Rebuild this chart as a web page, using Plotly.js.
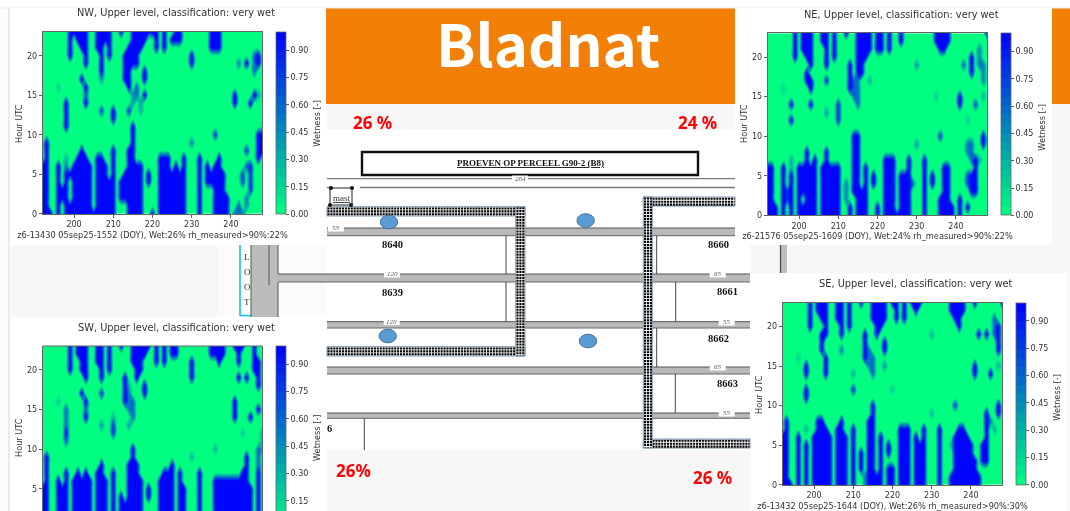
<!DOCTYPE html>
<html><head><meta charset="utf-8">
<script src="https://cdn.plot.ly/plotly-3.0.1.min.js"></script>
<style>html,body{margin:0;padding:0;background:#fff;overflow:hidden}#c{width:1070px;height:511px;filter:blur(0.45px)}</style>
</head><body><div id="c"></div>
<script>
// Day-of-year columns 192..248, hours 0..23. Each entry lists the wet hours for one DOY: "a-b" = wetness 1, "a-b:5" = 0.5
const doys=[192,193,194,195,196,197,198,199,200,201,202,203,204,205,206,207,208,209,210,211,212,213,214,215,216,217,218,219,220,221,222,223,224,225,226,227,228,229,230,231,232,233,234,235,236,237,238,239,240,241,242,243,244,245,246,247,248];
const hours=[0,1,2,3,4,5,6,7,8,9,10,11,12,13,14,15,16,17,18,19,20,21,22,23];
const nwWet=["0-6","0-9","0","","0-6,16:2","2-3","0-5,6:5,7:3,11-14","0-1,5,20-23","0-6,23","0-7,22-23","0-8,17,21-23","0-7,14,15:6,16,19-23","0-6","0","0-7,21-23","0-7,13:7,17:4,18-23","0-6,22-23","0-4,20-23","0-8,12-13","","2-4,23","2-5,17-20","0-8,13:8,16-21","0-11,14-15:4,19-23","0-6,15-16:6,19-23","0-6,13:3,14:4,21-23","15,17-18,22-23","4-5,23","0,23","21-23","0-7","0-7,21-23","0-7","0-5,22","0-6,22-23","0-5,22-23","0-7","","9:5,19-20","","0-7","","4-6","4-5,21-23","0-6,10:8,21-23","0-7,21-23","0-5","0-2","","0:6,14-15","0-1:6,19:5","0:5,4-5:7","1-2:5,6:6,8:8,19","3-6:8,14","15,18-20:6","7-10,15:3,19-20","8-10"];
const neWet=["0-6","0-6","0-1","","0-6,16:2","2-3:8","0-5,6-7:3,12,14","20-23","0-6","0-1,3-6,21-23","0-8,17-18,20-23","0-6,14,16-17,19-23","0-7","","0-6,22-23","0-8,13:4,17:8,19-23","0-6","0-6,20-23","0-6,12-14:8","","2-4:5,23","0-1,16-19","3-10,15-17:6","0-10,14-17:6,18-23","0-3,18-23","0-6,20-23","17:3,21-23","4-5","0-1,21-23","21-23","0-7","0-7,21-23","0-7","0","0-5,22-23","0-5","0-7","4:6","9:4,19:4","","0-7","","4-5","15:2,22-23","0-2,10:8,21-23","0-6,21-23","0-6,22-23","0-1","","0-2,14-15","19:6","1,4-5:7,8-9:5,12:2","3-5,7-9:6,18-20","3-7,14:7","7:3,19-21:5","9-10,15:3,17-19:5","23"];
const swWet=["0-5","0-9","0","","0-6,16:2","0-5","0-7,11-15:6,12","20-23","0-6","0-7,22-23","0-6,17,20-23","0-7,14,15:6,16,19-23","0-6","","0-7,21-23","0-8,13:4,17:8,19-23","0-6","20-23","0-7,12-13:8,14:3","","2-4,23","2-3,16-19","0-8,13:4,15-17:5,18:3","0-10,14-16:6,21-23","0-8,19-23","0-6,20-23","17-18,22-23","4-5,23","","21-23","0-6","0-7,21-23","0-7","0-8,22-23","22-23","0-7","0-5","","9:3,19-21","","0-7","","0-1","0-1,22-23","0-6,10:3,22-23","0-6,21-23","0-6,22-23","0-6","0-6","0-6,14-16,23","0-6,19,21-23","0-7,12:2,23","0-9,19","0-5,14","20-23","0-8,8-10:6,15,18-21","10-12:3"];
const seWet=["0-6","0-8","0","","0-6,16:2","","0-5,7:3,11-12,14-15","20-23","0-6","0-8,22-23","0-8,17-19,21-23","0-7,14-16,19-23","0-6","","0-7,21-23","0-8,17:5,19-23","0-6","20-23","0-7,12:8,14:3","","2-4,23","0-1:5,16-19","0-8,15-17:5","0-10,14-16:6,21-23","0-1,19-23","0-6,20-23","15:4,17-18,21-23","0-2,4-5","0-2,12:2,23","21-23","0-7","0-7,21-23","0-7","23","0-6,22-23","0-5,23","0-7","","9:3,19:3","","0-7","","","0-1,5:3,22-23","0-6,10:8,21-23","0-7,20-23","0-7,22-23","0-6","0-5","0-3,14-15,23","0-1,19","3-5","3-9,19","8:5,14","7:3,19-21:6","9-10,15:3,17-20","23"];
const panelNames=["NW","NE","SW","SE"];
const footers=["z6-13430 05sep25-1552 (DOY), Wet:26% rh_measured>90%:22%","z6-21576 05sep25-1609 (DOY), Wet:24% rh_measured>90%:22%","","z6-13432 05sep25-1644 (DOY), Wet:26% rh_measured>90%:30%"];
const xTicks=[200,210,220,230,240];
const yTicks=[0,5,10,15,20];
const cbTicks=[0,0.15,0.30,0.45,0.60,0.75,0.90];
const percentLabels=["26 %","24 %","26%","26 %"];
const plotNumbers=["8640","8639","8660","8661","8662","8663","6"];
const roadLengths=["264","53","120","65","120","55","65","55"];

function decode(cols){
  const m=hours.map(()=>doys.map(()=>0));
  cols.forEach((c,j)=>{ if(!c) return; c.split(",").forEach(t=>{
    const [r,v]=t.split(":"); const [a,b]=r.split("-").map(Number);
    for(let h=a;h<=(b===undefined?a:b);h++) m[h][j]=v?Number(v)/10:1; }); });
  return m;
}
const W=1070,H=511,X=x=>x/W,Y=y=>1-y/H;
const DJ="DejaVu Sans, sans-serif", SERIF="Liberation Serif, serif";
const geo=[
 {ax:[42.7,262.3],ay:[32,213.7],cb:275.7,tx:176,ty:13,hx:19,hy:124,wx:316.7,wy:123},
 {ax:[767.7,987.3],ay:[33.3,215.3],cb:1000.7,tx:901,ty:14,hx:744,hy:124,wx:1041.7,wy:127},
 {ax:[42.7,262.3],ay:[346,511],cb:275.7,tx:176,ty:327,clip:true,hx:19,hy:438,wx:317,wy:438},
 {ax:[782.7,1002.3],ay:[302.7,484.7],cb:1015.7,tx:915.7,ty:283,hx:759,hy:395,wx:1056.7,wy:397}
];
const wet=[nwWet,neWet,swWet,seWet];
const traces=[],layout={width:W,height:H,margin:{l:0,r:0,t:0,b:0,autoexpand:false},paper_bgcolor:"#fff",plot_bgcolor:"rgba(0,0,0,0)",showlegend:false,hovermode:false,font:{family:DJ,color:"#333",size:8.2},shapes:[],annotations:[]};
const S=layout.shapes,A=layout.annotations;
const rect=(x0,y0,x1,y1,fill,line,lw,layer)=>S.push({type:"rect",xref:"paper",yref:"paper",x0:X(x0),x1:X(x1),y0:Y(y0),y1:Y(y1),fillcolor:fill,line:{color:line||fill,width:line?(lw||1):0},layer:layer||"below"});
const ln=(x0,y0,x1,y1,c,w,dash,layer)=>S.push({type:"line",xref:"paper",yref:"paper",x0:X(x0),x1:X(x1),y0:Y(y0),y1:Y(y1),line:{color:c,width:w,dash:dash||"solid"},layer:layer||"below"});
const txt=(x,y,t,o={})=>A.push(Object.assign({xref:"paper",yref:"paper",x:X(x),y:Y(y),text:t,showarrow:false,xanchor:"center",yanchor:"middle",textangle:o.angle||0,font:{family:o.family||DJ,size:o.size||8.2,color:o.color||"#333",weight:o.weight||400,style:o.style||"normal"}}));

// page backgrounds
const GR="#f7f7f7",OR="#f28006";
rect(0,0,1070,511,"#fbfbfb");
rect(0,0,1070,8,"#ffffff");
rect(326,8,735,104,OR);
rect(1052,8,1070,104,OR);
rect(326,104,735,130,GR);
rect(1052,104,1070,245,GR);
rect(735,245,1070,273,GR);
rect(10,245,218,317,GR);
rect(326,130,750,450,"#ffffff");
rect(326,450,750,511,GR);
ln(9,8,9,511,"#e6e6e6",1.5);
ln(0,8,1070,8,"#ececec",1);
// white panels
rect(10,8,326,245,"#ffffff");
rect(735,8,1052,245,"#ffffff");
rect(10,317,326,511,"#ffffff");
rect(750,273,1066,511,"#ffffff");
// gutter bar right of the north-east panel
rect(780.5,245,787,273,"#bdbdbd");ln(780.5,245,780.5,273,"#444",1.2);

// loot + access road
rect(241,245,251,315,"#ffffff");
ln(240,245,240,316,"#19bdf0",1.6);ln(240,315.5,251,315.5,"#19bdf0",1.6);
rect(251,245,278,317,"#bcbcbc");
ln(251,245,251,317,"#555",1);ln(278,245,278,274,"#555",1);ln(269,245,269,285,"#555",1);ln(278,282,278,317,"#555",1);

// roads
const road=(x0,y0,y1,x1)=>{rect(x0,y0,x1,y1,"#b9b9b9");ln(x0,y0,x1,y0,"#555",1);ln(x0,y1,x1,y1,"#666",1);};
road(327,228,235.7,735);
road(278,274,282,750);
road(327,321.7,328,750);
road(327,367,374,750);
road(327,413,418.3,750);
ln(327,178.7,735,178.7,"#777",1.2);
ln(360,187.5,735,187.5,"#777",1.4);ln(327,187.5,331,187.5,"#777",1.4);
// thin separators
[[506,236,274],[506,282,322],[656.7,236,274],[675.7,282,322],[656.7,328,367],[675.3,374,413],[364.3,418,450]].forEach(v=>ln(v[0],v[1],v[0],v[2],"#444",1));

// hatched wind-break bands
const band=(x0,y0,x1,y1,vertical)=>{
  rect(x0,y0,x1,y1,"#ffffff","#7f97b2",1);
  if(vertical){for(let x=x0+1.8;x<x1-0.5;x+=2.9)ln(x,y0+0.5,x,y1-0.5,"#000",2.1,"2.1px,0.8px");}
  else{for(let y=y0+1.8;y<y1-0.5;y+=2.9)ln(x0+0.5,y,x1-0.5,y,"#000",2.1,"2.1px,0.8px");}
};
band(327,206.7,525,216,false);
band(327,346.7,525,356,false);
band(515.7,206.7,525,356,true);
band(643.3,197,735,206,false);
band(643.3,439,750,448,false);
band(643.3,197,652.3,448,true);

// title box
rect(362,152,698,175,"#ffffff","#111",2.4);
// mast
rect(330,188,352,205,"#ffffff","#222",1);
[[331,188],[352,188],[330,205],[351,205]].forEach(p=>S.push({type:"circle",xref:"paper",yref:"paper",x0:X(p[0]-2),x1:X(p[0]+2),y0:Y(p[1]-2),y1:Y(p[1]+2),fillcolor:"#111",line:{width:0},layer:"below"}));
// sensors
[[389,222],[585.7,220.5],[387.7,336],[588,341]].forEach(p=>S.push({type:"circle",xref:"paper",yref:"paper",x0:X(p[0]-8.7),x1:X(p[0]+8.7),y0:Y(p[1]-6.8),y1:Y(p[1]+6.8),fillcolor:"#5b9bd5",line:{color:"#41719c",width:1},layer:"below"}));
// length tags
[[520,179,0],[336,228,1],[392,274,2],[717.7,274,3],[391.7,321.5,4],[726.7,322,5],[717.7,367,6],[726.7,413,7]].forEach(p=>{
  rect(p[0]-8,p[1]-3.5,p[0]+8,p[1]+3.5,"#ffffff");
  txt(p[0],p[1],roadLengths[p[2]],{family:SERIF,size:7,color:"#555",style:"italic"});
});
// plot numbers
[[392,245],[392,292],[718,245],[727,291],[718,338],[727,383],[329,428]].forEach((p,i)=>txt(p[0],p[1],plotNumbers[i],{family:SERIF,size:10.5,color:"#111",weight:700}));
["L","O","O","T"].forEach((t,i)=>txt(247,257+i*15,t,{family:SERIF,size:9,color:"#333"}));
txt(530,162.5,"<u>PROEVEN OP PERCEEL G90-2 (B8)</u>",{family:SERIF,size:9,color:"#111",weight:700});
txt(341,198,"<u>mast</u>",{family:SERIF,size:9,color:"#333"});
txt(548,42,"Bladnat",{family:"Noto Sans CJK KR, Noto Sans, sans-serif",size:58,color:"#ffffff",weight:700});
ln(437,65.5,660,65.5,"#e8504a",1,"1px,1.5px");
[[372,122],[697,122],[353,470],[712,477]].forEach((p,i)=>txt(p[0],p[1],percentLabels[i],{family:"Noto Sans, sans-serif",size:17,color:"#ff0000",weight:700}));

// heatmaps
geo.forEach((g,i)=>{
  const n=i+1,s=n===1?"":n;
  traces.push({type:"contour",x:doys,y:hours,z:decode(wet[i]),xaxis:"x"+s,yaxis:"y"+s,
    zmin:0,zmax:1,autocontour:false,contours:{coloring:"fill",start:0,end:1,size:0.05,showlines:false},line:{width:0},
    colorscale:[[0,"#00ff80"],[1,"#0000ff"]],
    colorbar:{x:X(g.cb),xanchor:"left",xpad:0,ypad:0,y:Y(g.ay[0]),yanchor:"top",lenmode:"pixels",len:g.clip?182:g.ay[1]-g.ay[0],thicknessmode:"pixels",thickness:10,
      tickmode:"array",tickvals:g.clip?cbTicks.slice(1):cbTicks,ticktext:(g.clip?cbTicks.slice(1):cbTicks).map(v=>v.toFixed(2)),ticks:"outside",ticklen:3,tickwidth:0.8,tickcolor:"#333",tickfont:{family:DJ,size:8,color:"#333"},outlinecolor:"#666",outlinewidth:0.8},
    hoverinfo:"skip"});
  layout["xaxis"+s]={domain:[X(g.ax[0]),X(g.ax[1])],range:[192,248],anchor:"y"+s,tickmode:"array",tickvals:xTicks,ticktext:xTicks.map(String),
    ticks:g.clip?"":"outside",ticklen:3,tickwidth:0.8,tickcolor:"#333",tickfont:{family:DJ,size:8,color:"#333"},showticklabels:!g.clip,showgrid:false,zeroline:false,
    showline:!g.clip,linecolor:"#666",linewidth:1,mirror:true,
    title:{text:footers[i],standoff:3,font:{family:DJ,size:8.2,color:"#333"}}};
  layout["yaxis"+s]={domain:[Y(g.ay[1]),Y(g.ay[0])],range:[g.clip?2.2:0,23],anchor:"x"+s,tickmode:"array",tickvals:g.clip?yTicks.slice(1):yTicks,ticktext:(g.clip?yTicks.slice(1):yTicks).map(String),
    ticks:"outside",ticklen:3,tickwidth:0.8,tickcolor:"#333",tickfont:{family:DJ,size:8,color:"#333"},showgrid:false,zeroline:false,
    showline:true,linecolor:"#666",linewidth:1,mirror:true};
  txt(g.tx,g.ty,panelNames[i]+", Upper level, classification: very wet",{size:9.8});
  txt(g.hx,g.hy,"Hour UTC",{size:8.2,angle:-90});
  txt(g.wx,g.wy,"Wetness [-]",{size:8.2,angle:-90});
  if(g.clip) ln(g.ax[0],g.ay[0],g.ax[1],g.ay[0],"#666",1,"solid","above");
});
Plotly.newPlot("c",traces,layout,{displayModeBar:false,staticPlot:true});
</script></body></html>
